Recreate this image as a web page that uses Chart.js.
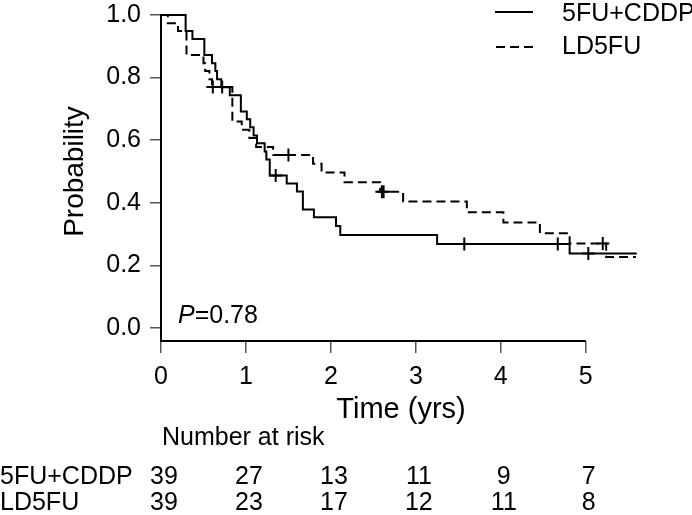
<!DOCTYPE html>
<html><head><meta charset="utf-8">
<script src="https://cdn.jsdelivr.net/npm/chart.js@4/dist/chart.umd.min.js"></script>
<style>html,body{margin:0;padding:0;background:#fff}#wrap{width:692px;height:515px;position:relative}</style>
</head><body><div id="wrap"><canvas id="c" width="692" height="515"></canvas></div>
<script>
const FONT = "'Liberation Sans', Arial, Helvetica, sans-serif";
const seriesNames = ['5FU+CDDP', 'LD5FU'];

// 5FU+CDDP (solid) Kaplan-Meier steps
const timesA = [0, 0.29, 0.37, 0.51, 0.60, 0.64, 0.66, 0.71, 0.81, 0.94, 1.01, 1.05, 1.09, 1.13, 1.22, 1.24, 1.28, 1.48, 1.60, 1.67, 1.80, 2.06, 2.11, 3.25, 4.81, 5.60];
const survA  = [1, 0.949, 0.923, 0.872, 0.846, 0.821, 0.795, 0.769, 0.744, 0.692, 0.667, 0.641, 0.615, 0.590, 0.564, 0.538, 0.487, 0.462, 0.436, 0.379, 0.354, 0.326, 0.297, 0.268, 0.238, 0.238];
const censTimesA = [1.35, 3.57, 4.67, 5.03];
const censSurvA  = [0.487, 0.268, 0.268, 0.238];

// LD5FU (dashed) Kaplan-Meier steps
const timesB = [0, 0.08, 0.20, 0.30, 0.50, 0.52, 0.57, 0.60, 0.84, 0.95, 1.04, 1.12, 1.32, 1.79, 1.89, 2.16, 2.58, 2.85, 3.60, 4.03, 4.46, 4.81, 5.24, 5.59];
const survB  = [1, 0.974, 0.949, 0.872, 0.846, 0.821, 0.795, 0.770, 0.660, 0.633, 0.607, 0.578, 0.553, 0.525, 0.497, 0.466, 0.435, 0.404, 0.370, 0.337, 0.303, 0.270, 0.227, 0.227];
const censTimesB = [0.61, 0.72, 1.50, 2.60, 2.62, 5.20];
const censSurvB  = [0.770, 0.770, 0.553, 0.435, 0.435, 0.270];

const xTicks = [0, 1, 2, 3, 4, 5];
const yTicks = [0, 0.2, 0.4, 0.6, 0.8, 1.0];
const riskTimes = [0, 1, 2, 3, 4, 5];
const riskA = [39, 27, 13, 11, 9, 7];
const riskB = [39, 23, 17, 12, 11, 8];
const pValue = '0.78';

function pts(ts, ss) { return ts.map((t, i) => ({ x: t, y: ss[i] })); }

const overlay = {
  id: 'overlay',
  afterDraw(chart) {
    const c = chart.ctx, xs = chart.scales.x, ys = chart.scales.y, ca = chart.chartArea;
    c.save();
    c.strokeStyle = '#000'; c.lineWidth = 2; c.setLineDash([]);
    c.beginPath();
    c.moveTo(xs.getPixelForValue(xTicks[0]) - 1, ca.bottom);
    c.lineTo(xs.getPixelForValue(xTicks[xTicks.length - 1]), ca.bottom);
    c.stroke();
    c.fillStyle = '#000';
    c.textAlign = 'center'; c.textBaseline = 'middle';
    c.font = '29px ' + FONT;
    c.fillText('Time (yrs)', (ca.left + ca.right) / 2, 410);
    c.font = '28px ' + FONT;
    c.save();
    c.translate(75, (ys.getPixelForValue(0) + ys.getPixelForValue(1)) / 2);
    c.rotate(-Math.PI / 2);
    c.fillText('Probability', 0, 0);
    c.restore();
    c.font = '25px ' + FONT; c.textAlign = 'left';
    c.lineWidth = 2;
    c.beginPath(); c.moveTo(495, 12); c.lineTo(533, 12); c.stroke();
    c.setLineDash([9, 5]);
    c.beginPath(); c.moveTo(496, 47); c.lineTo(533, 47); c.stroke();
    c.setLineDash([]);
    c.fillText(seriesNames[0], 562, 14);
    c.fillText(seriesNames[1], 562, 47);
    c.font = 'italic 25px ' + FONT;
    c.fillText('P', 178, 316);
    const pw = c.measureText('P').width;
    c.font = '25px ' + FONT;
    c.fillText('=' + pValue, 178 + pw, 316);
    c.font = '25px ' + FONT;
    c.fillText('Number at risk', 162, 438);
    c.fillText(seriesNames[0], 0, 477);
    c.fillText(seriesNames[1], 0, 503);
    c.textAlign = 'center';
    riskTimes.forEach((t, i) => {
      const px = xs.getPixelForValue(t) + 3;
      c.fillText(String(riskA[i]), px, 477);
      c.fillText(String(riskB[i]), px, 503);
    });
    c.restore();
  }
};

new Chart(document.getElementById('c'), {
  type: 'scatter',
  data: {
    datasets: [
      { data: pts(timesA, survA), showLine: true, stepped: true, borderColor: '#000', borderWidth: 2, pointRadius: 0, clip: false, fill: false },
      { data: pts(timesB, survB), showLine: true, stepped: true, borderColor: '#000', borderWidth: 2, borderDash: [9, 5], pointRadius: 0, clip: false, fill: false },
      { data: pts(censTimesA, censSurvA), showLine: false, pointStyle: 'cross', pointRadius: 6.5, borderColor: '#000', backgroundColor: '#000', borderWidth: 2, clip: false },
      { data: pts(censTimesB, censSurvB), showLine: false, pointStyle: 'cross', pointRadius: 6.5, borderColor: '#000', backgroundColor: '#000', borderWidth: 2, clip: false }
    ]
  },
  options: {
    responsive: false, animation: false, events: [],
    layout: { padding: { top: 15, right: 51, left: 0, bottom: 0 } },
    plugins: { legend: { display: false }, tooltip: { enabled: false } },
    scales: {
      x: {
        type: 'linear', min: 0, max: 5.65,
        afterBuildTicks(s) { s.ticks = xTicks.map(v => ({ value: v })); },
        afterFit(s) { s.height = 174; s.paddingLeft = 0; s.paddingRight = 0; },
        grid: { drawOnChartArea: false, drawTicks: true, tickLength: 12, color: '#555', lineWidth: 1.5 },
        border: { display: false },
        ticks: { font: { family: FONT, size: 25 }, color: '#000', padding: 9, maxRotation: 0, autoSkip: false, callback: v => String(v) }
      },
      y: {
        type: 'linear', min: -0.0415, max: 1.0,
        afterBuildTicks(s) { s.ticks = yTicks.map(v => ({ value: v })); },
        afterFit(s) { s.width = 161; s.paddingTop = 0; s.paddingBottom = 0; },
        grid: { drawOnChartArea: false, drawTicks: true, tickLength: 11, color: '#555', lineWidth: 1.5 },
        border: { display: true, color: '#000', width: 2 },
        ticks: { font: { family: FONT, size: 25 }, color: '#000', padding: 9, autoSkip: false, callback: v => v.toFixed(1) }
      }
    }
  },
  plugins: [overlay]
});
</script></body></html>
